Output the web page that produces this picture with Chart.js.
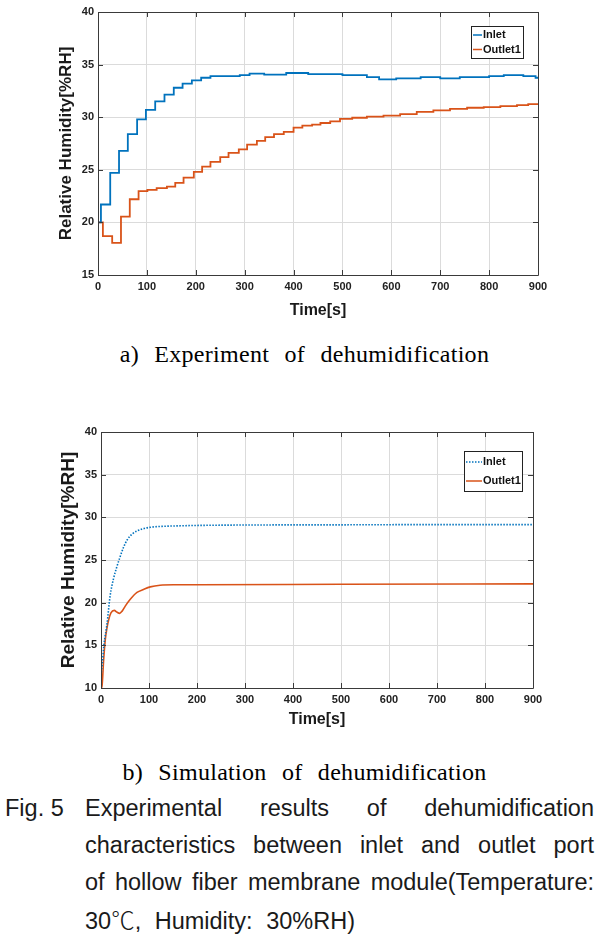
<!DOCTYPE html>
<html><head><meta charset="utf-8">
<script src="https://cdn.jsdelivr.net/npm/chart.js@4.4.0/dist/chart.umd.min.js"></script>
<style>
html,body{margin:0;padding:0;background:#fff;}
body{width:609px;height:950px;position:relative;overflow:hidden;}
canvas{position:absolute;left:0;}
#c1{top:0;width:609px;height:330px;}
#c2{top:420px;width:609px;height:320px;}
.sub{position:absolute;left:0;width:609px;text-align:center;font-family:'Liberation Serif','DejaVu Serif',serif;font-size:24px;line-height:28px;letter-spacing:0.3px;word-spacing:9px;color:#000;white-space:nowrap;}
#capA{top:340px;}
#capB{top:758px;}
.fig{position:absolute;font-family:'Liberation Sans',Arial,sans-serif;font-size:23.5px;color:#1a1a1a;line-height:37px;}
.fig .l{display:block;text-align:justify;text-align-last:justify;white-space:nowrap;}
.cjk{font-family:'Noto Sans CJK KR',sans-serif;font-weight:300;}
</style></head><body>
<canvas id="c1" width="609" height="330"></canvas>
<canvas id="c2" width="609" height="320"></canvas>
<div class="sub" id="capA">a) Experiment of dehumidification</div>
<div class="sub" id="capB">b) Simulation of dehumidification</div>
<div class="fig" style="left:5px;top:790px;">Fig. 5</div>
<div class="fig" style="left:85px;top:790px;width:509px;">
<span class="l" style="width:509px;">Experimental results of dehumidification</span>
<span class="l" style="width:509px;">characteristics between inlet and outlet port</span>
<span class="l" style="width:509px;">of hollow fiber membrane module(Temperature:</span>
<span style="display:block;word-spacing:7px;">30<span class="cjk">℃</span>, Humidity: 30%RH)</span>
</div>
<script>
// ---------- data ----------
const seriesNames = ['Inlet', 'Outlet1'];
const xTicks = [0, 100, 200, 300, 400, 500, 600, 700, 800, 900];
const yTicksA = [15, 20, 25, 30, 35, 40];
const yTicksB = [10, 15, 20, 25, 30, 35, 40];

// a) Experiment (step data: time[s], RH)
const expInletT = [0, 6, 25, 43, 61, 80, 98, 117, 136, 155, 173, 192, 211, 230, 290, 310, 340, 385, 430, 500, 550, 575, 610, 660, 700, 740, 800, 830, 870, 895, 900];
const expInletV = [20.0, 21.7, 24.7, 26.8, 28.4, 29.8, 30.7, 31.5, 32.15, 32.8, 33.2, 33.5, 33.75, 33.9, 34.0, 34.15, 34.05, 34.2, 34.1, 34.0, 33.8, 33.6, 33.7, 33.8, 33.7, 33.8, 33.9, 34.0, 33.9, 33.75, 33.7];
const expOutletT = [0, 10, 29, 47, 65, 83, 101, 120, 141, 158, 175, 196, 213, 230, 250, 267, 288, 305, 325, 342, 360, 380, 400, 418, 438, 455, 475, 495, 520, 550, 584, 618, 652, 686, 720, 755, 789, 823, 857, 880, 900];
const expOutletV = [20.0, 18.7, 18.05, 20.55, 22.2, 22.97, 23.1, 23.25, 23.4, 23.75, 24.25, 24.8, 25.3, 25.75, 26.2, 26.6, 26.95, 27.4, 27.75, 28.1, 28.4, 28.6, 29.0, 29.2, 29.3, 29.45, 29.6, 29.85, 29.95, 30.05, 30.15, 30.3, 30.5, 30.65, 30.8, 30.9, 30.95, 31.05, 31.15, 31.25, 31.27];

// b) Simulation
const simInletT = [0, 3, 6, 12.5, 19, 26, 33, 40, 47, 55, 65, 75, 90, 105, 130, 160, 200, 300, 500, 700, 900];
const simInletV = [11.5, 13, 15, 17.5, 20.8, 22.8, 24.2, 25.4, 26.5, 27.4, 28.05, 28.4, 28.7, 28.85, 28.95, 29.0, 29.05, 29.1, 29.12, 29.15, 29.15];
const simOutletT = [0, 2, 5.5, 9, 12.5, 16, 20.7, 27.7, 33, 38.8, 43.6, 50.5, 61, 75, 88.6, 102.6, 123, 151, 200, 500, 900];
const simOutletV = [10.0, 10.2, 13.3, 15.7, 17.05, 18.0, 18.8, 19.1, 18.9, 18.75, 18.98, 19.6, 20.4, 21.2, 21.55, 21.85, 22.05, 22.1, 22.1, 22.15, 22.2];

const BLUE = '#0072BD', ORANGE = '#D95319';
const pts = (t, v) => t.map((x, i) => ({x, y: v[i]}));

const FAM = "'Liberation Sans',Arial,sans-serif";
const TICKFONT = {family: FAM, size: 11, weight: 'bold'};

// frame + inward ticks + boxed legend
const framePlugin = {
  id: 'frame',
  afterDraw(chart, args, o) {
    const {ctx, chartArea: a, scales} = chart;
    ctx.save();
    ctx.strokeStyle = '#3a3a3a';
    ctx.lineWidth = 1;
    ctx.beginPath();
    ctx.rect(Math.round(a.left) + 0.5, Math.round(a.top) + 0.5, Math.round(a.right - a.left), Math.round(a.bottom - a.top));
    ctx.stroke();
    const L = 5;
    ctx.beginPath();
    scales.x.ticks.forEach(t => {
      const px = Math.round(scales.x.getPixelForValue(t.value)) + 0.5;
      ctx.moveTo(px, a.bottom); ctx.lineTo(px, a.bottom - L);
      ctx.moveTo(px, a.top); ctx.lineTo(px, a.top + L);
    });
    scales.y.ticks.forEach(t => {
      const py = Math.round(scales.y.getPixelForValue(t.value)) + 0.5;
      ctx.moveTo(a.left, py); ctx.lineTo(a.left + L, py);
      ctx.moveTo(a.right, py); ctx.lineTo(a.right - L, py);
    });
    ctx.stroke();
    // legend
    const lg = o.legend;
    const bx = a.right - lg.right - lg.w, by = a.top + lg.top;
    ctx.fillStyle = '#fff';
    ctx.fillRect(bx, by, lg.w, lg.h);
    ctx.strokeStyle = '#222';
    ctx.lineWidth = 1;
    ctx.strokeRect(Math.round(bx) + 0.5, Math.round(by) + 0.5, lg.w, lg.h);
    ctx.font = "bold 11px " + FAM;
    ctx.textBaseline = 'middle';
    chart.data.datasets.forEach((ds, i) => {
      const y = by + lg.row0 + i * lg.rowGap;
      ctx.strokeStyle = ds.borderColor;
      ctx.lineWidth = 1.5;
      ctx.setLineDash(ds.borderDash || []);
      ctx.beginPath();
      ctx.moveTo(bx + lg.lx0, y); ctx.lineTo(bx + lg.lx1, y);
      ctx.stroke();
      ctx.setLineDash([]);
      ctx.fillStyle = '#111';
      ctx.fillText(ds.label, bx + lg.tx, y);
    });
    ctx.restore();
  }
};

function makeOptions(yMin, yMax, yTicks, cfg) {
  return {
    responsive: false,
    animation: false,
    layout: {padding: {left: 0, top: cfg.top, right: cfg.right, bottom: 0}},
    plugins: {
      legend: {display: false},
      tooltip: {enabled: false},
      frame: {legend: cfg.legend}
    },
    elements: {point: {radius: 0}},
    scales: {
      x: {
        type: 'linear', min: 0, max: 900,
        afterBuildTicks: s => { s.ticks = xTicks.map(v => ({value: v})); },
        afterFit: s => { s.height = cfg.xH; },
        grid: {color: '#dbdbdb', drawTicks: false, lineWidth: 1},
        border: {display: false},
        ticks: {font: TICKFONT, color: '#222', padding: 5, maxRotation: 0},
        title: {display: true, text: 'Time[s]', font: {family: FAM, size: 16, weight: 'bold'}, color: '#1a1a1a', padding: {top: 0, bottom: cfg.xTitlePad}}
      },
      y: {
        type: 'linear', min: yMin, max: yMax,
        afterBuildTicks: s => { s.ticks = yTicks.map(v => ({value: v})); },
        afterFit: s => { s.width = cfg.yW; },
        grid: {color: '#dbdbdb', drawTicks: false, lineWidth: 1},
        border: {display: false},
        ticks: {font: TICKFONT, color: '#222', padding: 4},
        title: {display: true, text: 'Relative Humidity[%RH]', font: {family: FAM, size: cfg.yTitleSize, weight: 'bold'}, color: '#1a1a1a', padding: {top: cfg.yTitlePad, bottom: 0}}
      }
    }
  };
}

new Chart(document.getElementById('c1'), {
  type: 'line',
  data: {datasets: [
    {label: seriesNames[0], data: pts(expInletT, expInletV), borderColor: BLUE, borderWidth: 1.8, stepped: 'before', fill: false},
    {label: seriesNames[1], data: pts(expOutletT, expOutletV), borderColor: ORANGE, borderWidth: 1.8, stepped: 'before', fill: false}
  ]},
  options: makeOptions(15, 40, yTicksA, {top: 12, right: 71, xH: 55, yW: 98, xTitlePad: 9.4, yTitlePad: 56, yTitleSize: 17,
    legend: {w: 52, h: 32, right: 15, top: 14, row0: 9, rowGap: 14.5, lx0: 2, lx1: 11, tx: 12}}),
  plugins: [framePlugin]
});

new Chart(document.getElementById('c2'), {
  type: 'line',
  data: {datasets: [
    {label: seriesNames[0], data: pts(simInletT, simInletV), borderColor: BLUE, borderWidth: 1.6, borderDash: [1.5, 1.5], cubicInterpolationMode: 'monotone', fill: false},
    {label: seriesNames[1], data: pts(simOutletT, simOutletV), borderColor: ORANGE, borderWidth: 1.6, cubicInterpolationMode: 'monotone', fill: false}
  ]},
  options: makeOptions(10, 40, yTicksB, {top: 12, right: 76, xH: 52, yW: 101, xTitlePad: 10.4, yTitlePad: 57.6, yTitleSize: 19,
    legend: {w: 58, h: 40, right: 11, top: 19, row0: 11, rowGap: 19, lx0: 2, lx1: 18, tx: 19}}),
  plugins: [framePlugin]
});
</script>
</body></html>
